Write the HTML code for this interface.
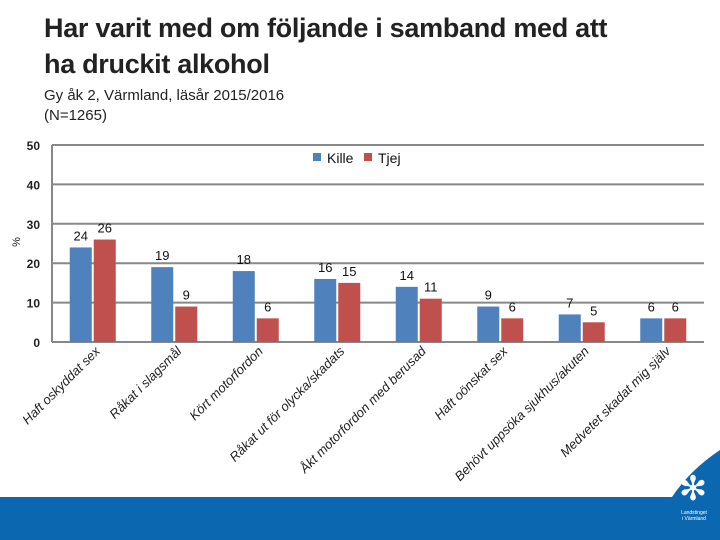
<!DOCTYPE html>
<html><head><meta charset="utf-8"><style>
body{margin:0;width:720px;height:540px;overflow:hidden;background:#fff;font-family:"Liberation Sans",sans-serif;position:relative}
</style></head><body>
<div style="position:absolute;left:44px;top:10px;font-size:27px;line-height:36px;color:#222;font-weight:bold;letter-spacing:-0.3px">Har varit med om följande i samband med att<br>ha druckit alkohol</div>
<div style="position:absolute;left:44px;top:86px;font-size:15px;line-height:20px;color:#222">Gy åk 2, Värmland, läsår 2015/2016<br>(N=1265)</div>
<svg id="c" width="720" height="540" style="position:absolute;left:0;top:0">
<path d="M0 497 H672 Q690 470 720 450 V540 H0Z" fill="#0a67b0"/>
<text x="693" y="500" font-size="34" fill="#fff" text-anchor="middle">✻</text>
<text x="694" y="514" font-size="5" fill="#fff" text-anchor="middle">Landstinget</text>
<text x="694" y="520" font-size="5" fill="#fff" text-anchor="middle">i Värmland</text>
</svg>
<script>
const categories=["Haft oskyddat sex","Råkat i slagsmål","Kört motorfordon","Råkat ut för olycka/skadats","Åkt motorfordon med  berusad","Haft oönskat sex","Behövt uppsöka sjukhus/akuten","Medvetet skadat mig själv"];
const kille=[24,19,18,16,14,9,7,6];
const tjej=[26,9,6,15,11,6,5,6];
const ticks=[0,10,20,30,40,50];
const svg=document.getElementById('c');const NS='http://www.w3.org/2000/svg';
const x0=52,x1=704,y0=342,y1=145;
const ys=v=>y0-(v/50)*(y0-y1);
const step=(x1-x0)/categories.length;
function mk(t,a,p){const e=document.createElementNS(NS,t);for(const k in a)e.setAttribute(k,a[k]);(p||svg).appendChild(e);return e;}
ticks.forEach(t=>{
 const l=mk('line',{x1:x0,x2:x1,y1:ys(t),y2:ys(t),stroke:'#888','stroke-width':2});
 
 
 const tx=mk('text',{x:40,y:ys(t)+5,'font-size':12,'font-weight':'bold','text-anchor':'end',fill:'#222'});tx.textContent=t;
 
 
});
const ax=mk('line',{x1:x0,x2:x0,y1:y1,y2:y0,stroke:'#888','stroke-width':2});


const yt=mk('text',{x:20,y:242,'font-size':11,fill:'#222',transform:'rotate(-90 20 242)','text-anchor':'middle'});yt.textContent='%';


categories.forEach((c,i)=>{
 const cx=x0+step*(i+0.5);
 [[kille[i],'#4f81bd',cx-23,'bar-kille'],[tjej[i],'#c0504d',cx+1,'bar-tjej']].forEach(([v,col,bx,nm])=>{
  const r=mk('rect',{x:bx,y:ys(v),width:22,height:y0-ys(v),fill:col});
  
  
  const t=mk('text',{x:bx+11,y:ys(v)-7,'font-size':13,'text-anchor':'middle',fill:'#111'});t.textContent=v;
  
  
 });
 const lx=cx+8,ly=352;
 const t=mk('text',{x:lx,y:ly,'font-size':13,'font-style':'italic','text-anchor':'end',fill:'#222',transform:`rotate(-45 ${lx} ${ly})`});t.textContent=c;
 
 
});
const lg=[['Kille','#4f81bd',313],['Tjej','#c0504d',364]];
lg.forEach(([n,col,x])=>{
 const r=mk('rect',{x:x,y:153,width:8,height:8,fill:col});
 
 
 const t=mk('text',{x:x+14,y:163,'font-size':14,fill:'#111'});t.textContent=n;
 
 
});
</script>
</body></html>
